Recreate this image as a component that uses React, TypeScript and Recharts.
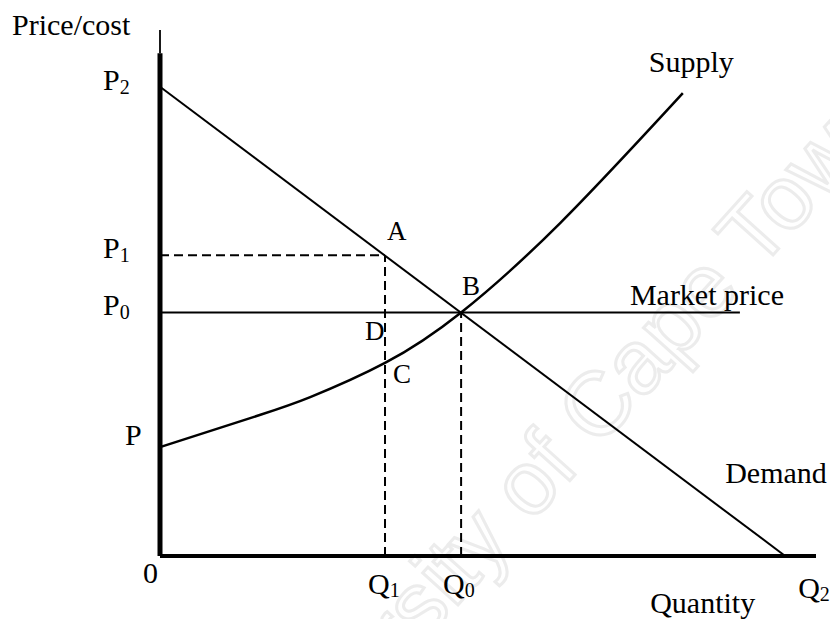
import React from 'react'
import { LineChart, Line, XAxis, YAxis, ReferenceLine, ReferenceDot } from 'recharts'

const FONT = '"Liberation Serif", "Times New Roman", serif'

// both axes in chart units 0–100
const demandQty = [0, 95.3]
const demandPrice = [89.2, 0]

const supplyQty = [0, 15.2, 22.9, 34.3, 45.9, 61.0, 79.7]
const supplyPrice = [20.7, 26.8, 30.2, 36.7, 46.3, 63.3, 88.0]

const marketQty = [0, 88.4]

const P = 20.7
const P0 = 46.3
const P1 = 57.2
const P2 = 89.2
const Q1 = 34.3
const Q0 = 45.9
const Q2 = 95.3
const supplyAtQ1 = 36.7

const priceTicks = [P, P0, P1, P2]
const priceTickNames = [['P', ''], ['P', '0'], ['P', '1'], ['P', '2']]
const qtyTicks = [0, Q1, Q0, Q2]
const qtyTickNames = [['0', ''], ['Q', '1'], ['Q', '0'], ['Q', '2']]

const demandData = demandQty.map((q, i) => ({ q, p: demandPrice[i] }))
const supplyData = supplyQty.map((q, i) => ({ q, p: supplyPrice[i] }))
const marketData = marketQty.map(q => ({ q, p: P0 }))

function PriceTick({ x, y, payload }: any) {
  const i = priceTicks.indexOf(payload.value)
  if (i < 0) return null
  const [base, sub] = priceTickNames[i]
  return (
    <text x={sub ? x - 57 : x - 35} y={sub ? y + 3 : y - 2} fontFamily={FONT} fontSize={30} fill="#000">
      {base}
      {sub && <tspan fontSize={20} dy={4}>{sub}</tspan>}
    </text>
  )
}

function QtyTick({ x, y, payload }: any) {
  const i = qtyTicks.indexOf(payload.value)
  if (i < 0) return null
  const [base, sub] = qtyTickNames[i]
  // small per-label nudges so they sit like the original
  const dx = [-17, -17, -18, 13][i]
  const dy = [27, 38, 38, 42][i]
  return (
    <text x={x + dx} y={y + dy} fontFamily={FONT} fontSize={30} fill="#000">
      {base}
      {sub && <tspan fontSize={20} dy={3}>{sub}</tspan>}
    </text>
  )
}

const tag = (text: string, dx: number, dy: number, size = 30) => (props: any) => {
  const vb = props.viewBox || { x: 0, y: 0 }
  return (
    <text x={vb.x + dx} y={vb.y + dy} fontFamily={FONT} fontSize={size} fill="#000">
      {text}
    </text>
  )
}

export default function App() {
  return (
    <div style={{ position: 'absolute', left: 0, top: 0, width: 830, height: 619, background: '#fff', overflow: 'hidden' }}>
      {/* faint watermark behind the chart */}
      <svg width={830} height={619} style={{ position: 'absolute', left: 0, top: 0 }}>
        <text
          x={574}
          y={476}
          transform="rotate(-48 574 476)"
          textAnchor="middle"
          fontFamily='"Liberation Sans", Arial, sans-serif'
          fontSize={90}
          fill="none"
          stroke="#ececec"
          strokeWidth={3}
        >
          University of Cape Town
        </text>
      </svg>
      <div style={{ position: 'absolute', left: 0, top: 0 }}>
        <LineChart width={830} height={619} margin={{ top: 30, right: 14, bottom: 0, left: 0 }}>
          <XAxis
            type="number"
            dataKey="q"
            domain={[0, 100]}
            ticks={qtyTicks}
            interval={0}
            height={63}
            axisLine={false}
            tickLine={false}
            tickSize={0}
            tickMargin={0}
            tick={<QtyTick />}
          />
          <YAxis
            type="number"
            dataKey="p"
            domain={[0, 100]}
            ticks={priceTicks}
            interval={0}
            width={160}
            axisLine={false}
            tickLine={false}
            tickSize={0}
            tickMargin={0}
            tick={<PriceTick />}
          />

          {/* axes */}
          <ReferenceLine segment={[{ x: 0, y: 0 }, { x: 0, y: 95.6 }]} stroke="#000" strokeWidth={5} />
          <ReferenceLine segment={[{ x: 0, y: 95.6 }, { x: 0, y: 100 }]} stroke="#000" strokeWidth={1.8} />
          <ReferenceLine segment={[{ x: 0, y: 0 }, { x: 100, y: 0 }]} stroke="#000" strokeWidth={4} />

          {/* dashed guides */}
          <ReferenceLine segment={[{ x: 0, y: P1 }, { x: Q1, y: P1 }]} stroke="#000" strokeWidth={2} strokeDasharray="9 5" />
          <ReferenceLine segment={[{ x: Q1, y: 0 }, { x: Q1, y: P1 }]} stroke="#000" strokeWidth={2} strokeDasharray="9 5" />
          <ReferenceLine segment={[{ x: Q0, y: 0 }, { x: Q0, y: P0 }]} stroke="#000" strokeWidth={2} strokeDasharray="9 5" />

          <Line data={marketData} dataKey="p" type="linear" stroke="#000" strokeWidth={2} dot={false} activeDot={false} isAnimationActive={false} />
          <Line data={demandData} dataKey="p" type="linear" stroke="#000" strokeWidth={2} dot={false} activeDot={false} isAnimationActive={false} />
          <Line data={supplyData} dataKey="p" type="natural" stroke="#000" strokeWidth={2.5} dot={false} activeDot={false} isAnimationActive={false} />

          {/* annotations */}
          <ReferenceDot x={0} y={100} r={0} ifOverflow="visible" label={tag('Price/cost', -148, 5)} />
          <ReferenceDot x={Q1} y={P1} r={0} ifOverflow="visible" label={tag('A', 2, -15, 27)} />
          <ReferenceDot x={Q0} y={P0} r={0} ifOverflow="visible" label={tag('B', 1, -17, 27)} />
          <ReferenceDot x={Q1} y={P0} r={0} ifOverflow="visible" label={tag('D', -20, 28, 27)} />
          <ReferenceDot x={Q1} y={supplyAtQ1} r={0} ifOverflow="visible" label={tag('C', 8, 20, 27)} />
          <ReferenceDot x={supplyQty[supplyQty.length - 1]} y={supplyPrice[supplyPrice.length - 1]} r={0} ifOverflow="visible" label={tag('Supply', -34, -21)} />
          <ReferenceDot x={marketQty[1]} y={P0} r={0} ifOverflow="visible" label={tag('Market price', -110, -7)} />
          <ReferenceDot x={Q2} y={0} r={0} ifOverflow="visible" label={tag('Demand', -60, -73)} />
          <ReferenceDot x={Q2} y={0} r={0} ifOverflow="visible" label={tag('Quantity', -135, 57)} />
        </LineChart>
      </div>
    </div>
  )
}
